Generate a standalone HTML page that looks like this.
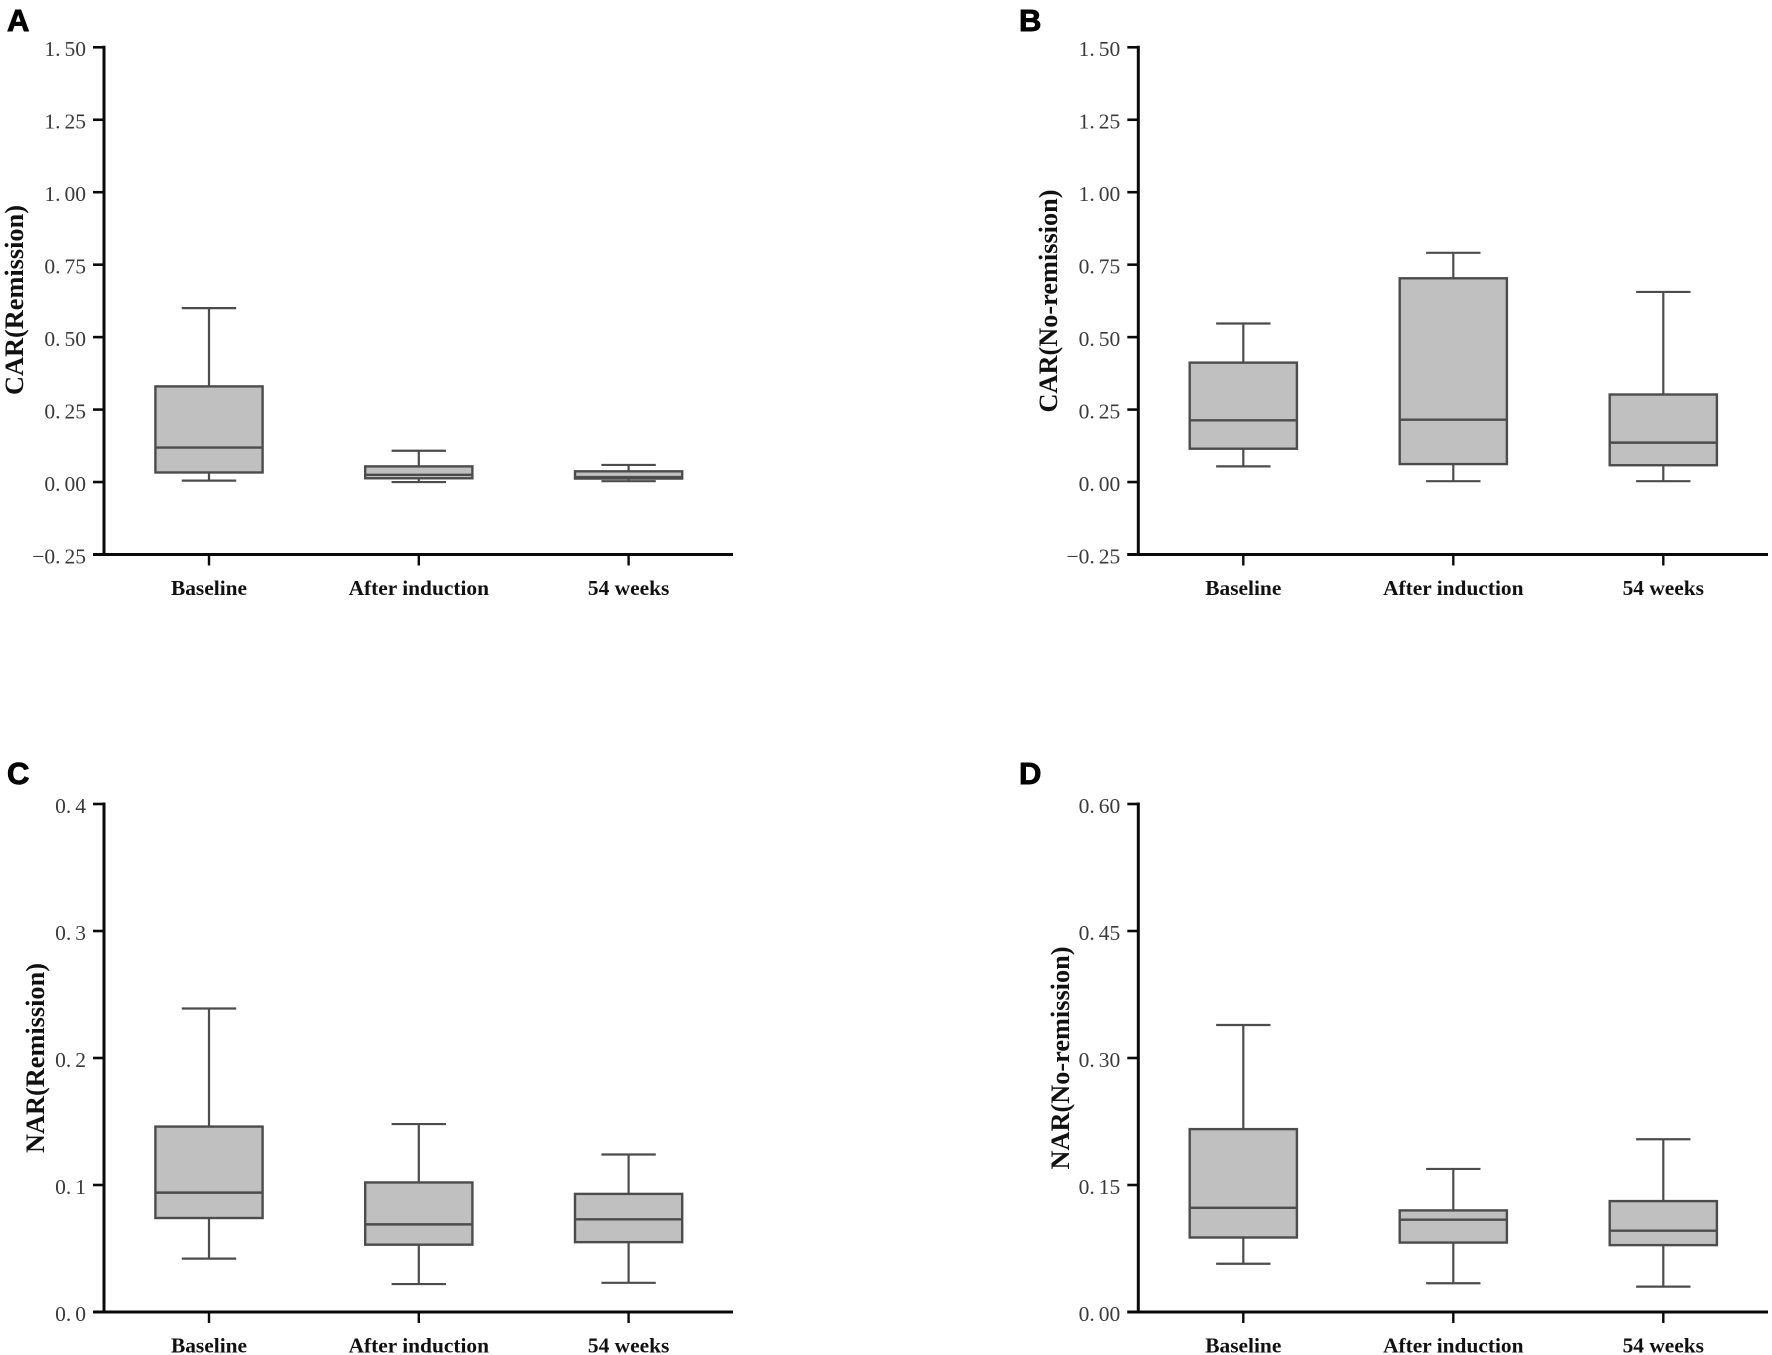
<!DOCTYPE html>
<html lang="en">
<head>
<meta charset="utf-8">
<title>CAR and NAR box plots</title>
<style>
html,body{margin:0;padding:0;background:#fff;}
body{width:1772px;height:1355px;overflow:hidden;}
svg{display:block;}
.tick-label{font-family:"Liberation Serif","Noto Serif CJK SC",serif;font-size:21.5px;fill:#3a3a3a;}
.cat-label{font-family:"Liberation Serif","Noto Serif CJK SC",serif;font-size:21.4px;font-weight:bold;fill:#111;text-anchor:middle;}
.y-title{font-family:"Liberation Serif","Noto Serif CJK SC",serif;font-size:26.3px;font-weight:bold;fill:#111;text-anchor:middle;}
.panel-letter{font-family:"Liberation Sans",sans-serif;font-size:31px;font-weight:bold;fill:#000;stroke:#000;stroke-width:0.9px;}
</style>
</head>
<body>
<svg id="figure" xmlns="http://www.w3.org/2000/svg" width="1772" height="1355" viewBox="0 0 1772 1355"></svg>
<script>
// Shared categories
const categories = ["Baseline", "After induction", "54 weeks"];

// Panel A: CAR (Remission)
const ticksA = ["-0.25", "0.00", "0.25", "0.50", "0.75", "1.00", "1.25", "1.50"];
const highA = [0.600, 0.108, 0.059];
const q3A = [0.330, 0.054, 0.037];
const medianA = [0.119, 0.025, 0.017];
const q1A = [0.033, 0.013, 0.012];
const lowA = [0.005, 0.000, 0.003];

// Panel B: CAR (No-remission)
const ticksB = ["-0.25", "0.00", "0.25", "0.50", "0.75", "1.00", "1.25", "1.50"];
const highB = [0.547, 0.791, 0.656];
const q3B = [0.412, 0.703, 0.302];
const medianB = [0.213, 0.215, 0.136];
const q1B = [0.115, 0.062, 0.058];
const lowB = [0.054, 0.003, 0.003];

// Panel C: NAR (Remission)
const ticksC = ["0.0", "0.1", "0.2", "0.3", "0.4"];
const highC = [0.239, 0.148, 0.124];
const q3C = [0.146, 0.102, 0.093];
const medianC = [0.094, 0.069, 0.073];
const q1C = [0.074, 0.053, 0.055];
const lowC = [0.042, 0.022, 0.023];

// Panel D: NAR (No-remission)
const ticksD = ["0.00", "0.15", "0.30", "0.45", "0.60"];
const highD = [0.339, 0.169, 0.204];
const q3D = [0.216, 0.120, 0.131];
const medianD = [0.123, 0.109, 0.096];
const q1D = [0.088, 0.082, 0.079];
const lowD = [0.057, 0.034, 0.030];

const SVG_NS = "http://www.w3.org/2000/svg";
const root = document.getElementById("figure");
const AXIS_COLOR = "#0a0a0a";
const BOX_COLOR = "#4c4c4c";
const BOX_FILL = "#c0c0c0";

function make(tag, parent, attrs) {
  const node = document.createElementNS(SVG_NS, tag);
  for (const key in attrs) node.setAttribute(key, attrs[key]);
  parent.appendChild(node);
  return node;
}

function drawPanel(p) {
  const panel = make("g", root, {});
  
  

  const values = p.ticks.map(Number);
  const yMin = Math.min.apply(null, values);
  const yMax = Math.max.apply(null, values);
  const yScale = function (v) {
    return p.bottom - (v - yMin) / (yMax - yMin) * (p.bottom - p.top);
  };
  const xScale = function (i) {
    return p.firstX + i * p.stepX;
  };

  // Panel letter
  const letter = make("text", panel, { x: p.letterX, y: p.letterY, "class": "panel-letter" });
  letter.textContent = p.letter;
  
  

  // Y axis title
  const title = make("text", panel, {
    "class": "y-title",
    transform: "translate(" + p.titleX + "," + p.titleY + ") rotate(-90)"
  });
  title.textContent = p.title;
  
  

  // Y axis line
  const yAxis = make("line", panel, {
    x1: p.axisX, x2: p.axisX, y1: p.top - 1.5, y2: p.bottom + 1.5,
    stroke: AXIS_COLOR, "stroke-width": 3
  });
  
  

  // X axis line
  const xAxis = make("line", panel, {
    x1: p.axisX - 11, x2: p.axisEnd, y1: p.bottom, y2: p.bottom,
    stroke: AXIS_COLOR, "stroke-width": 3
  });
  
  

  // Y ticks and labels
  p.ticks.forEach(function (label, i) {
    const y = yScale(values[i]);
    const tick = make("line", panel, {
      x1: p.axisX - 11, x2: p.axisX, y1: y, y2: y,
      stroke: AXIS_COLOR, "stroke-width": 2.6
    });
    
    

    const text = make("text", panel, { x: p.axisX - 18, y: y + 8.8, "text-anchor": "end", "class": "tick-label" });
    
    
    const parts = label.replace("-", "\u2212").split(".");
    const intPart = make("tspan", text, {});
    intPart.textContent = parts[0] + ".";
    const fracPart = make("tspan", text, { dx: 4 });
    fracPart.textContent = parts[1];
  });

  // Categories: ticks, labels, boxes
  categories.forEach(function (name, i) {
    const cx = xScale(i);

    const tick = make("line", panel, {
      x1: cx, x2: cx, y1: p.bottom, y2: p.bottom + 11,
      stroke: AXIS_COLOR, "stroke-width": 2.4
    });
    
    

    const cat = make("text", panel, { x: cx, y: p.bottom + 40.5, "class": "cat-label" });
    cat.textContent = name;
    
    

    const group = make("g", panel, {});
    
    

    const whisker = make("line", group, {
      x1: cx, x2: cx, y1: yScale(p.high[i]), y2: yScale(p.low[i]),
      stroke: BOX_COLOR, "stroke-width": 2.2
    });
    
    

    const capHigh = make("line", group, {
      x1: cx - 27.2, x2: cx + 27.2, y1: yScale(p.high[i]), y2: yScale(p.high[i]),
      stroke: BOX_COLOR, "stroke-width": 2.2
    });
    
    

    const capLow = make("line", group, {
      x1: cx - 27.2, x2: cx + 27.2, y1: yScale(p.low[i]), y2: yScale(p.low[i]),
      stroke: BOX_COLOR, "stroke-width": 2.2
    });
    
    

    const box = make("rect", group, {
      x: cx - 53.6, width: 107.2,
      y: yScale(p.q3[i]), height: yScale(p.q1[i]) - yScale(p.q3[i]),
      fill: BOX_FILL, stroke: BOX_COLOR, "stroke-width": 2.4
    });
    
    

    const median = make("line", group, {
      x1: cx - 53.6, x2: cx + 53.6, y1: yScale(p.median[i]), y2: yScale(p.median[i]),
      stroke: BOX_COLOR, "stroke-width": 2.4
    });
    
    
  });
}

drawPanel({ name: "panel-a-car-remission", letter: "A", letterX: 7, letterY: 31,
  title: "CAR(Remission)", titleX: 23, titleY: 300,
  ticks: ticksA, high: highA, q3: q3A, median: medianA, q1: q1A, low: lowA,
  axisX: 104, axisEnd: 733, top: 47.3, bottom: 554.5, firstX: 209, stepX: 209.8 });

drawPanel({ name: "panel-b-car-no-remission", letter: "B", letterX: 1019, letterY: 31,
  title: "CAR(No-remission)", titleX: 1057, titleY: 301,
  ticks: ticksB, high: highB, q3: q3B, median: medianB, q1: q1B, low: lowB,
  axisX: 1138.3, axisEnd: 1768, top: 47.3, bottom: 554.5, firstX: 1243.3, stepX: 210 });

drawPanel({ name: "panel-c-nar-remission", letter: "C", letterX: 7, letterY: 784,
  title: "NAR(Remission)", titleX: 44, titleY: 1058,
  ticks: ticksC, high: highC, q3: q3C, median: medianC, q1: q1C, low: lowC,
  axisX: 104, axisEnd: 733, top: 804, bottom: 1312, firstX: 209, stepX: 209.8 });

drawPanel({ name: "panel-d-nar-no-remission", letter: "D", letterX: 1019, letterY: 784,
  title: "NAR(No-remission)", titleX: 1069, titleY: 1058,
  ticks: ticksD, high: highD, q3: q3D, median: medianD, q1: q1D, low: lowD,
  axisX: 1138.3, axisEnd: 1768, top: 804, bottom: 1312, firstX: 1243.3, stepX: 210 });
</script>
</body>
</html>
